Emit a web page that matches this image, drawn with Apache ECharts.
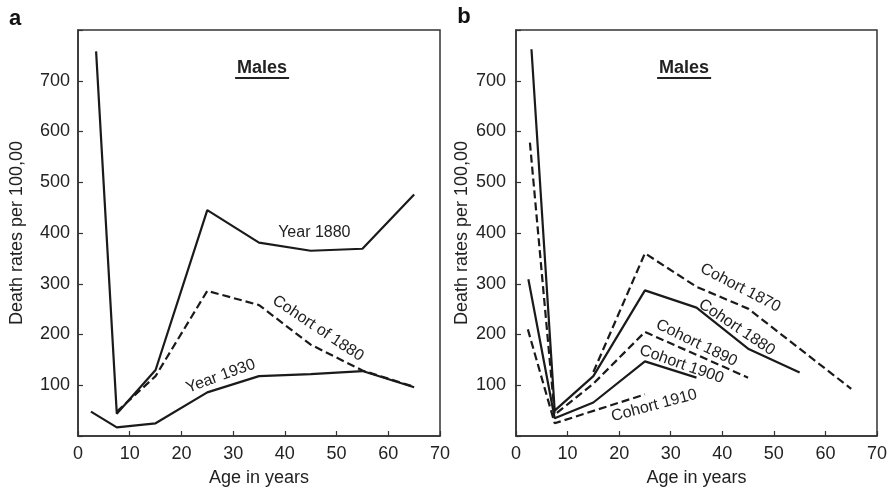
<!DOCTYPE html>
<html>
<head>
<meta charset="utf-8">
<script src="https://cdn.jsdelivr.net/npm/echarts@6/dist/echarts.min.js"></script>
<style>html,body{margin:0;padding:0;background:#fff}#c{width:890px;height:492px}</style>
</head>
<body>
<div id="c"></div>
<script>
// ---- Data ----
// Panel a
const agesYear1880 = [3.5, 7.5, 15, 25, 35, 45, 55, 65];
const ratesYear1880 = [758, 44, 130, 445, 381, 365, 369, 476];
const agesYear1930 = [2.5, 7.5, 15, 25, 35, 45, 55, 65];
const ratesYear1930 = [48, 17, 25, 86, 118, 122, 128, 96];
const agesCohortOf1880 = [7.5, 15, 25, 35, 45, 55, 65];
const ratesCohortOf1880 = [48, 118, 286, 258, 180, 129, 97];
// Panel b
const agesCohort1870 = [15, 25, 35, 45, 55, 65];
const ratesCohort1870 = [126, 360, 294, 251, 172, 93];
const agesCohort1880 = [3, 7.5, 15, 25, 35, 45, 55];
const ratesCohort1880 = [762, 50, 118, 287, 253, 172, 125];
const agesCohort1890 = [2.7, 7.5, 15, 25, 35, 45];
const ratesCohort1890 = [578, 42, 103, 205, 160, 115];
const agesCohort1900 = [2.4, 7.5, 15, 25, 35];
const ratesCohort1900 = [309, 35, 66, 147, 115];
const agesCohort1910 = [2.3, 7.5, 25];
const ratesCohort1910 = [210, 25, 82];

const xTicks = [0, 10, 20, 30, 40, 50, 60, 70];
const yTickLabels = [100, 200, 300, 400, 500, 600, 700];

const annotationTexts = ['Year 1880', 'Cohort of 1880', 'Year 1930', 'Cohort 1870', 'Cohort 1880', 'Cohort 1890', 'Cohort 1900', 'Cohort 1910'];
const annotationPanel = [0, 0, 0, 1, 1, 1, 1, 1];
const annotationAge = [45.7, 46.4, 27.6, 43.5, 42.8, 35, 32.1, 26.8];
const annotationRate = [401, 212, 118, 292, 214, 183, 141, 60];
const annotationAngle = [0, -33.7, 20, -27.5, -34, -26, -19.4, 15];

const panelTitle = 'Males';
const panelLetters = ['a', 'b'];

// ---- Chart ----
const pairs = (xs, ys) => xs.map((x, i) => [x, ys[i]]);
const FONT = 'Liberation Sans, Arial, sans-serif';
const INK = '#1a1a1a';

function xAxisCfg(gi) {
  return {
    type: 'value', gridIndex: gi, min: 0, max: 70, interval: 10,
    name: 'Age in years', nameLocation: 'middle', nameGap: 33,
    nameTextStyle: { fontFamily: FONT, fontSize: 18, color: '#222' },
    axisLine: { show: true, lineStyle: { color: '#333', width: 1.5 } },
    axisTick: { show: true, inside: true, length: 5, lineStyle: { color: '#333', width: 1.2 } },
    axisLabel: { fontFamily: FONT, fontSize: 18, color: '#222', margin: 9,
      formatter: v => xTicks.includes(v) ? String(v) : '' },
    splitLine: { show: false }
  };
}
function yAxisCfg(gi, gap) {
  return {
    type: 'value', gridIndex: gi, min: 0, max: 800, interval: 100,
    name: 'Death rates per 100,00', nameLocation: 'middle', nameGap: gap,
    nameTextStyle: { fontFamily: FONT, fontSize: 18, color: '#222' },
    axisLine: { show: true, lineStyle: { color: '#333', width: 1.5 } },
    axisTick: { show: true, inside: true, length: 5, lineStyle: { color: '#333', width: 1.2 } },
    axisLabel: { fontFamily: FONT, fontSize: 18, color: '#222', margin: gi === 0 ? 8 : 10,
      formatter: v => yTickLabels.includes(v) ? String(v) : '' },
    splitLine: { show: false }
  };
}
function lineSeries(gi, xs, ys, dashed) {
  return {
    type: 'line', xAxisIndex: gi, yAxisIndex: gi, data: pairs(xs, ys),
    symbol: 'none', silent: true,
    lineStyle: { color: INK, width: 2.2, type: dashed ? [8, 4] : 'solid' }
  };
}

const chart = echarts.init(document.getElementById('c'), null, { renderer: 'canvas' });
chart.setOption({
  animation: false,
  backgroundColor: '#fff',
  grid: [
    { left: 78, top: 30, width: 362, height: 409, show: true, borderColor: '#333', borderWidth: 1.5, backgroundColor: 'transparent' },
    { left: 516, top: 30, width: 363, height: 409, show: true, borderColor: '#333', borderWidth: 1.5, backgroundColor: 'transparent' }
  ],
  xAxis: [xAxisCfg(0), xAxisCfg(1)],
  yAxis: [yAxisCfg(0, 52), yAxisCfg(1, 45)],
  series: [
    lineSeries(0, agesYear1880, ratesYear1880, false),
    lineSeries(0, agesYear1930, ratesYear1930, false),
    lineSeries(0, agesCohortOf1880, ratesCohortOf1880, true),
    lineSeries(1, agesCohort1870, ratesCohort1870, true),
    lineSeries(1, agesCohort1880, ratesCohort1880, false),
    lineSeries(1, agesCohort1890, ratesCohort1890, true),
    lineSeries(1, agesCohort1900, ratesCohort1900, false),
    lineSeries(1, agesCohort1910, ratesCohort1910, true)
  ]
});

// Annotations placed through the chart's own coordinate conversion
const graphics = [];
annotationTexts.forEach((t, i) => {
  const p = chart.convertToPixel({ gridIndex: annotationPanel[i] }, [annotationAge[i], annotationRate[i]]);
  graphics.push({
    type: 'text', x: p[0], y: p[1], rotation: annotationAngle[i] * Math.PI / 180,
    style: { text: t, font: '16px ' + FONT, fill: '#222', align: 'center', verticalAlign: 'middle' }
  });
});
const titleAges = [35.6, 32.6];
[0, 1].forEach(gi => {
  const p = chart.convertToPixel({ gridIndex: gi }, [titleAges[gi], 725]);
  graphics.push({
    type: 'text', x: p[0], y: p[1],
    style: { text: panelTitle, font: 'bold 18px ' + FONT, fill: '#222', align: 'center', verticalAlign: 'middle' }
  });
  graphics.push({
    type: 'line', shape: { x1: p[0] - 27, y1: p[1] + 10, x2: p[0] + 27, y2: p[1] + 10 },
    style: { stroke: '#222', lineWidth: 2 }
  });
});
graphics.push({ type: 'text', x: 15, y: 19, style: { text: panelLetters[0], font: 'bold 22px ' + FONT, fill: '#111', align: 'center', verticalAlign: 'middle' } });
graphics.push({ type: 'text', x: 464, y: 17, style: { text: panelLetters[1], font: 'bold 22px ' + FONT, fill: '#111', align: 'center', verticalAlign: 'middle' } });
chart.setOption({ graphic: graphics });
</script>
</body>
</html>
